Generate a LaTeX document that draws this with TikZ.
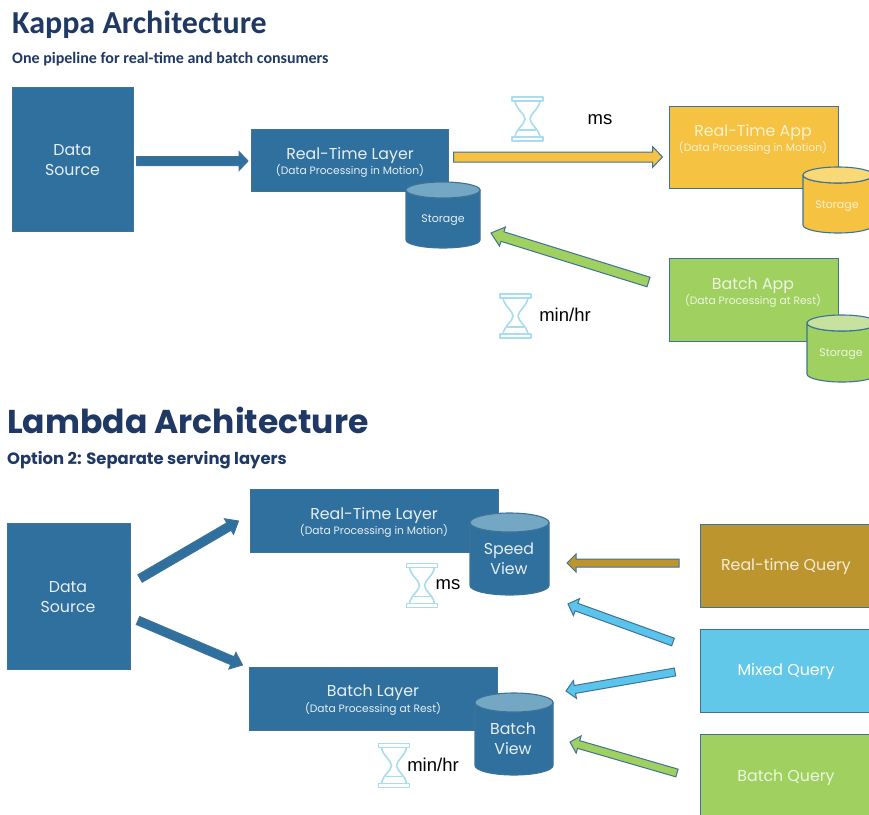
\documentclass[tikz,border=0pt]{standalone}
\usepackage{fontspec}
\setmainfont{Poppins}
\newfontfamily\carl{Carlito}
\newfontfamily\arial{Liberation Sans}
\usetikzlibrary{calc}
\definecolor{bluef}{HTML}{30709E}
\definecolor{bluet}{HTML}{74A7C4}
\definecolor{edgec}{HTML}{3F7396}
\definecolor{navy}{HTML}{1F3864}
\definecolor{yelf}{HTML}{F5C242}
\definecolor{yelt}{HTML}{F9D976}
\definecolor{grnf}{HTML}{A0D060}
\definecolor{grnt}{HTML}{C6E29E}
\definecolor{goldf}{HTML}{BD952F}
\definecolor{skyf}{HTML}{62C8EA}
\definecolor{skya}{HTML}{5BC4EC}
\definecolor{hourc}{HTML}{A9DCEC}
\definecolor{lighttxt}{HTML}{E6EFF5}
\definecolor{yeltxt}{HTML}{FDF1CF}
\definecolor{grntxt}{HTML}{EDF6DF}
\definecolor{goldtxt}{HTML}{F6EDD6}
\tikzset{
  rectbox/.style={draw=edgec,line width=0.9pt,outer sep=0pt,inner sep=0pt},
  barrow/.style={draw=edgec,line width=1pt,line join=miter},
  cylanchor/.style={outer sep=0pt,inner sep=0pt},
  cyldraw/.style={draw=edgec,line width=1.1pt,line join=round},
  big/.style={text=lighttxt,font=\fontsize{15.8}{19}\selectfont,align=center,inner sep=0pt,yshift=-1.6pt},
  small/.style={text=lighttxt,font=\fontsize{10.7}{12}\selectfont,inner sep=0pt,yshift=-0.8pt},
  stor/.style={text=lighttxt,font=\fontsize{11}{13}\selectfont,inner sep=0pt,yshift=-2pt},
  timelbl/.style={font=\arial\fontsize{18.5}{21}\selectfont,inner sep=0pt,text=black},
  hgl/.style={draw=hourc,line width=1.6pt,line join=round}
}
\newcommand{\blockarrow}[6]{%
  \coordinate (hb) at ($(#2)!#6pt!(#1)$);
  \draw[barrow,fill=#3] ($(#1)!#4pt!90:(#2)$) -- ($(hb)!#4pt!90:(#2)$) -- ($(hb)!#5pt!90:(#2)$) -- (#2)
    -- ($(hb)!#5pt!-90:(#2)$) -- ($(hb)!#4pt!-90:(#2)$) -- ($(#1)!#4pt!-90:(#2)$) -- cycle;}
\newcommand{\hourglass}[2]{%
  \begin{scope}[shift={(#1,#2)}]
    \draw[hgl] (0,0) rectangle (31,4);
    \draw[hgl] (0,40) rectangle (31,44);
    \draw[hgl] (3,4) .. controls (4,12) and (13,17) .. (13,22) .. controls (13,27) and (4,32) .. (3,40);
    \draw[hgl] (28,4) .. controls (27,12) and (18,17) .. (18,22) .. controls (18,27) and (27,32) .. (28,40);
    \draw[hgl] (7,33) -- (24,33);
  \end{scope}}
% name, cx, cy, w, h, body fill, top fill, ry
\newcommand{\cylbody}[8]{%
  \node[cylanchor,minimum width=#4pt,minimum height=#5pt] (#1) at (#2,#3) {};
  \draw[cyldraw,fill=#6] ($(#1.north west)+(0,#8)$) -- ($(#1.south west)+(0,-#8)$)
    arc[start angle=180,end angle=0,x radius=#4/2,y radius=#8]
    -- ($(#1.north east)+(0,#8)$) arc[start angle=0,end angle=180,x radius=#4/2,y radius=#8] -- cycle;
  \draw[cyldraw,fill=#7] ($(#1.north)+(0,#8)$) ellipse[x radius=#4/2,y radius=#8];}
\begin{document}
\begin{tikzpicture}[x=1pt,y=-1pt]
\clip (0,0) rectangle (869,814);
\fill[white] (0,0) rectangle (869,814);
% titles
\node[anchor=west,inner sep=0pt,text=navy,font=\carl\bfseries\fontsize{32}{36}\selectfont] (t1) at (12,24.5) {Kappa Architecture};
\node[anchor=west,inner sep=0pt,text=navy,font=\carl\bfseries\fontsize{16}{18}\selectfont] (t2) at (12,59) {One pipeline for real-time and batch consumers};
\node[anchor=west,inner sep=0pt,text=navy,font=\bfseries\fontsize{33}{38}\selectfont] (t3) at (7,420) {Lambda Architecture};
\node[anchor=west,inner sep=0pt,text=navy,font=\bfseries\fontsize{16.4}{20}\selectfont] (t4) at (7,460.5) {Option 2: Separate serving layers};
% Kappa boxes
\node[rectbox,fill=bluef,minimum width=121pt,minimum height=144pt] (kds) at (73,159.5) {};
\node[rectbox,fill=bluef,minimum width=197pt,minimum height=62pt] (krt) at (350,160.5) {};
\node[rectbox,fill=yelf,minimum width=169pt,minimum height=82pt] (kapp) at (754,147.5) {};
\node[rectbox,fill=grnf,minimum width=169pt,minimum height=83pt] (kbat) at (754,300) {};
\cylbody{kst}{443}{215}{74}{66}{bluef}{bluet}{8}
\cylbody{ast}{838}{200}{70}{66}{yelf}{yelt}{8}
\cylbody{bst}{842}{348.5}{70}{67}{grnf}{grnt}{8}
% Kappa text
\node[big] (l1) at (72.5,158) {Data\\[1pt]Source};
\node[big] (l2) at (350,154) {Real-Time Layer};
\node[small] (l3) at (350,170) {(Data Processing in Motion)};
\node[stor] (l4) at (443,218) {Storage};
\node[big,text=yeltxt] (l5) at (753,131) {Real-Time App};
\node[small,text=yeltxt] (l6) at (753,147) {(Data Processing in Motion)};
\node[stor,text=yeltxt] (l7) at (837,204) {Storage};
\node[big,text=grntxt] (l8) at (753,284) {Batch App};
\node[small,text=grntxt] (l9) at (753,300) {(Data Processing at Rest)};
\node[stor,text=grntxt] (l10) at (841,352) {Storage};
\node[timelbl] (l11) at (600,119.5) {ms};
\node[timelbl] (l12) at (565,315) {min/hr};
% Kappa arrows
\coordinate (a1s) at ($(kds.east)+(3,1.5)$);
\coordinate (a1e) at ($(krt.west)+(-3.5,0.5)$);
\blockarrow{a1s}{a1e}{bluef}{4.5}{9.5}{9}
\coordinate (a2s) at ($(krt.east)+(5,-3.5)$);
\coordinate (a2e) at ($(kapp.west)+(-7,9.5)$);
\blockarrow{a2s}{a2e}{yelf}{5}{10.5}{10}
\coordinate (a3s) at ($(kbat.west)+(-21,-18)$);
\coordinate (a3e) at ($(kst.east)+(11,18)$);
\blockarrow{a3s}{a3e}{grnf}{5}{10}{12}
\hourglass{512}{97}
\hourglass{500}{294}
% Lambda boxes
\node[rectbox,fill=bluef,minimum width=123pt,minimum height=146pt] (lds) at (69,596.5) {};
\node[rectbox,fill=bluef,minimum width=248pt,minimum height=63pt] (lrt) at (374.5,521) {};
\node[rectbox,fill=bluef,minimum width=248pt,minimum height=63pt] (lba) at (373.5,699) {};
\node[rectbox,fill=goldf,minimum width=175pt,minimum height=83pt] (qrt) at (787.5,566) {};
\node[rectbox,fill=skyf,minimum width=175pt,minimum height=83pt] (qmx) at (787.5,671) {};
\node[rectbox,fill=grnf,minimum width=175pt,minimum height=83pt] (qba) at (787.5,776) {};
\cylbody{vsp}{509.5}{554}{79}{82}{bluef}{bluet}{9.5}
\cylbody{vba}{514}{734}{78}{82}{bluef}{bluet}{9.5}
% Lambda text
\node[big] (m1) at (68,595.5) {Data\\[1pt]Source};
\node[big] (m2) at (374,514) {Real-Time Layer};
\node[small] (m3) at (374,530.5) {(Data Processing in Motion)};
\node[big] (m4) at (373,691.5) {Batch Layer};
\node[small] (m5) at (373,708.5) {(Data Processing at Rest)};
\node[big] (m6) at (509,557) {Speed\\[1pt]View};
\node[big] (m7) at (513,737) {Batch\\[1pt]View};
\node[big,text=goldtxt] (m8) at (786,565) {Real-time Query};
\node[big,text=white] (m9) at (786,670) {Mixed Query};
\node[big,text=grntxt] (m10) at (786,776) {Batch Query};
\node[timelbl] (m11) at (448,584.5) {ms};
\node[timelbl] (m12) at (433,765) {min/hr};
% Lambda arrows
\coordinate (b1s) at ($(lds.east)+(9.5,-18)$);
\coordinate (b1e) at ($(lrt.west)+(-12,0)$);
\blockarrow{b1s}{b1e}{bluef}{4.3}{9}{11}
\coordinate (b2s) at ($(lds.east)+(7.5,24)$);
\coordinate (b2e) at ($(lba.west)+(-7,-34)$);
\blockarrow{b2s}{b2e}{bluef}{4.3}{9}{11}
\coordinate (b3s) at ($(qrt.west)+(-21,-3)$);
\coordinate (b3e) at ($(vsp.east)+(18,9)$);
\blockarrow{b3s}{b3e}{goldf}{4}{9}{9}
\coordinate (b4s) at ($(qmx.west)+(-27,-29)$);
\coordinate (b4e) at ($(vsp.east)+(19,50)$);
\blockarrow{b4s}{b4e}{skya}{4}{9}{9}
\coordinate (b5s) at ($(qmx.west)+(-25,1)$);
\coordinate (b5e) at ($(vba.east)+(13,-43)$);
\blockarrow{b5s}{b5e}{skya}{4}{9}{9}
\coordinate (b6s) at ($(qba.west)+(-23,-3)$);
\coordinate (b6e) at ($(vba.east)+(17,8)$);
\blockarrow{b6s}{b6e}{grnf}{4}{9}{9}
\hourglass{406.5}{563.5}
\hourglass{378.5}{743.5}
\end{tikzpicture}
\end{document}
